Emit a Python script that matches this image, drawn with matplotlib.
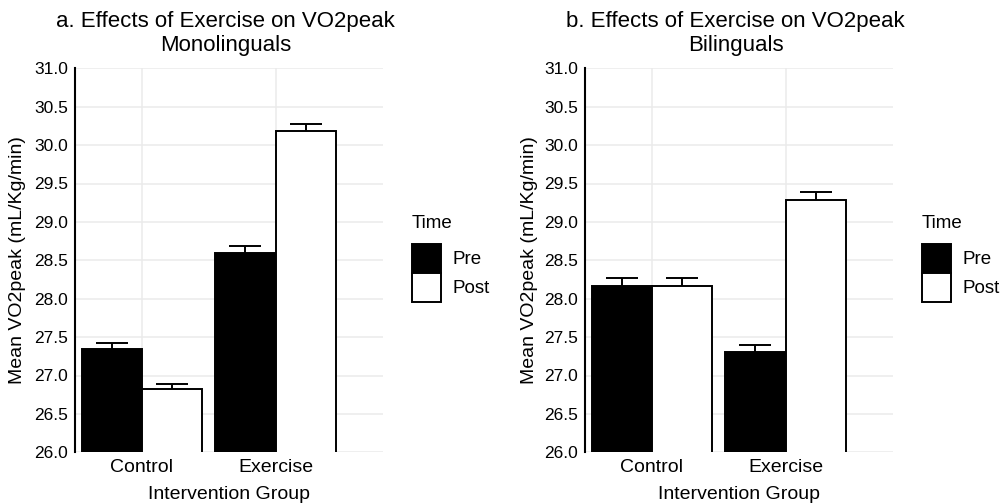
import matplotlib
matplotlib.use("Agg")
import matplotlib.pyplot as plt
from matplotlib.patches import Patch
import numpy as np

plt.rcParams['font.family'] = ['Liberation Sans', 'DejaVu Sans']

groups = ["Control", "Exercise"]
times = ["Pre", "Post"]

mono_pre = [27.35, 28.60]
mono_post = [26.82, 30.18]
mono_pre_se = [0.07, 0.09]
mono_post_se = [0.07, 0.09]

bi_pre = [28.17, 27.30]
bi_post = [28.17, 29.28]
bi_pre_se = [0.10, 0.10]
bi_post_se = [0.10, 0.11]

titles = ["a. Effects of Exercise on VO2peak", "b. Effects of Exercise on VO2peak"]
subtitles = ["Monolinguals", "Bilinguals"]
yticks = [26.0, 26.5, 27.0, 27.5, 28.0, 28.5, 29.0, 29.5, 30.0, 30.5, 31.0]

W, H = 1006, 504
fig = plt.figure(figsize=(W / 100, H / 100), dpi=100)

panels = [
    (75, mono_pre, mono_post, mono_pre_se, mono_post_se, 17.5, 412),
    (585, bi_pre, bi_post, bi_pre_se, bi_post_se, 529, 922),
]

ax_w = 307.5
ax_top, ax_bot = 68.3, 452.3

for i, (x0, pre, post, pse, qse, ylab_x, leg_x) in enumerate(panels):
    ax = fig.add_axes([x0 / W, (H - ax_bot) / H, ax_w / W, (ax_bot - ax_top) / H])
    x = np.arange(len(groups))
    bw = 0.45
    ax.errorbar(x - bw / 2, pre, yerr=pse, fmt='none', ecolor='black',
                elinewidth=1.4, capsize=11.5, capthick=1.4, zorder=2)
    ax.errorbar(x + bw / 2, post, yerr=qse, fmt='none', ecolor='black',
                elinewidth=1.4, capsize=11.5, capthick=1.4, zorder=2)
    ax.bar(x - bw / 2, pre, width=bw, color='black', edgecolor='black',
           linewidth=1.4, zorder=3, label=times[0])
    ax.bar(x + bw / 2, post, width=bw, color='white', edgecolor='black',
           linewidth=1.4, zorder=3, label=times[1])
    ax.set_xlim(-0.5, 1.8)
    ax.set_ylim(26, 31)
    ax.set_yticks(yticks)
    ax.set_yticklabels([f"{v:.1f}" for v in yticks])
    ax.set_xticks(x)
    ax.set_xticklabels(groups)
    ax.set_axisbelow(True)
    ax.grid(True, color='#EBEBEB', linewidth=1.1, zorder=0)
    for s in ['top', 'right', 'bottom']:
        ax.spines[s].set_visible(False)
    ax.spines['left'].set_linewidth(1.5)
    ax.spines['left'].set_color('black')
    ax.tick_params(axis='both', length=0, colors='black')
    ax.tick_params(axis='y', pad=5, labelsize=12.5)
    ax.tick_params(axis='x', pad=5, labelsize=14)
    ax.set_xlabel("Intervention Group", fontsize=14, labelpad=7)
    fig.text(ylab_x / W, (H - 260) / H, "Mean VO2peak (mL/Kg/min)", rotation=90,
             ha='center', va='center', fontsize=14)
    cx = (x0 + ax_w / 2) / W
    fig.text(cx - 3 / W, (H - 27.3) / H, titles[i], ha='center', va='baseline', fontsize=16)
    fig.text(cx - 3 / W, (H - 50.5) / H, subtitles[i], ha='center', va='baseline', fontsize=16)

    # legend: title as text, entries as a real legend
    fig.text(leg_x / W, (H - 228) / H, "Time", ha='left', va='baseline', fontsize=13.5)
    handles = [Patch(facecolor='black', edgecolor='black', linewidth=1.4),
               Patch(facecolor='white', edgecolor='black', linewidth=1.4)]
    fig.legend(handles, times, loc='upper left',
               bbox_to_anchor=(leg_x / W, (H - 244) / H),
               frameon=False, fontsize=13.5,
               handlelength=1.55, handleheight=2.0,
               labelspacing=0.0,
               handletextpad=0.6, borderpad=0, borderaxespad=0)

fig.savefig("out.png", dpi=100)
